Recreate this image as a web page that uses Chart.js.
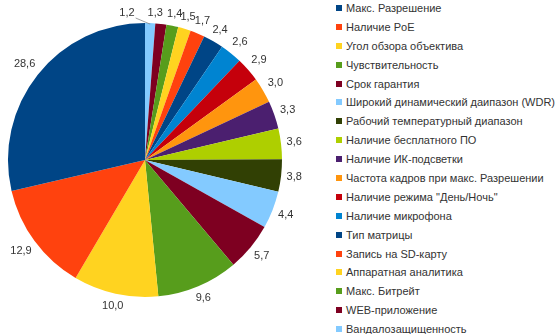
<!DOCTYPE html>
<html>
<head>
<meta charset="utf-8">
<script src="https://cdn.jsdelivr.net/npm/chart.js@4"></script>
<style>
  body { margin: 0; background: #fff; width: 560px; height: 334px; overflow: hidden; position: relative; }
  #pieBox { position: absolute; left: 0; top: 0; width: 330px; height: 334px; }
  #legend { position: absolute; left: 336px; top: 0; font: 11px "Liberation Sans", Arial, sans-serif; color: #333; }
  #legend div { height: 18.9px; line-height: 16px; white-space: nowrap; }
  #legend span { display: inline-block; width: 6px; height: 6px; margin-right: 4px; vertical-align: 1px; }
</style>
</head>
<body>
<div id="pieBox"><canvas id="pieChart"></canvas></div>
<div id="legend"></div>
<script>
const categories = [
    "Макс. Разрешение",
    "Наличие PoE",
    "Угол обзора объектива",
    "Чувствительность",
    "Срок гарантия",
    "Широкий динамический даипазон (WDR)",
    "Рабочий температурный диапазон",
    "Наличие бесплатного ПО",
    "Наличие ИК-подсветки",
    "Частота кадров при макс. Разрешении",
    "Наличие режима \"День/Ночь\"",
    "Наличие микрофона",
    "Тип матрицы",
    "Запись на SD-карту",
    "Аппаратная аналитика",
    "Макс. Битрейт",
    "WEB-приложение",
    "Вандалозащищенность"
];
const values = [28.6, 12.9, 10.0, 9.6, 5.7, 4.4, 3.8, 3.6, 3.3, 3.0, 2.9, 2.6, 2.4, 1.7, 1.5, 1.4, 1.3, 1.2];
const colors = [
    "#004586", "#ff420e", "#ffd320", "#579d1c", "#7e0021", "#83caff",
    "#314004", "#aecf00", "#4b1f6f", "#ff950e", "#c5000b", "#0084d1",
    "#004586", "#ff420e", "#ffd320", "#579d1c", "#7e0021", "#83caff"
];

// legend (same order as the source table)
const legendEl = document.getElementById("legend");
categories.forEach((name, i) => {
    const row = document.createElement("div");
    const sw = document.createElement("span");
    sw.style.background = colors[i];
    row.appendChild(sw);
    row.appendChild(document.createTextNode(name));
    legendEl.appendChild(row);
});

// pie goes counter-clockwise in the original, so feed it reversed
const pieLabels = categories.slice().reverse();
const pieValues = values.slice().reverse();
const pieColors = colors.slice().reverse();

function fmt(v) {
    return v.toFixed(1).replace(".", ",");
}

const outsideLabels = {
    id: "outsideLabels",
    afterDatasetsDraw(chart) {
        const ctx = chart.ctx;
        const meta = chart.getDatasetMeta(0);
        ctx.save();
        ctx.font = '11px "Liberation Sans", Arial, sans-serif';
        ctx.fillStyle = "#333";
        ctx.textAlign = "center";
        ctx.textBaseline = "middle";
        meta.data.forEach((arc, i) => {
            const v = pieValues[i];
            const txt = fmt(v);
            const mid = (arc.startAngle + arc.endAngle) / 2;
            const dx = Math.cos(mid), dy = Math.sin(mid);
            const w = ctx.measureText(txt).width, h = 11;
            if (i === 0) {
                // smallest slice: label pushed left with a leader line
                const ex = arc.x + dx * (arc.outerRadius - 1);
                const ey = arc.y + dy * (arc.outerRadius - 1);
                const lx = arc.x - 18, ly = arc.y - arc.outerRadius - 10;
                ctx.strokeStyle = "#888";
                ctx.lineWidth = 0.8;
                ctx.beginPath();
                ctx.moveTo(ex, ey);
                ctx.lineTo(lx + w / 2 + 1, ly + 5);
                ctx.stroke();
                ctx.fillText(txt, lx, ly);
                return;
            }
            const ext = Math.abs(dx) * w / 2 + Math.abs(dy) * h / 2;
            const d = arc.outerRadius + 5 + ext;
            let x = arc.x + dx * d, y = arc.y + dy * d;
            if (i === 1) x -= 7;
            ctx.fillText(txt, x, y);
        });
        ctx.restore();
    }
};

const ctx = document.getElementById("pieChart").getContext("2d");
new Chart(ctx, {
    type: "pie",
    data: {
        labels: pieLabels,
        datasets: [{
            data: pieValues,
            backgroundColor: pieColors,
            borderWidth: 0
        }]
    },
    options: {
        responsive: true,
        maintainAspectRatio: false,
        animation: false,
        layout: { padding: { left: 8, top: 23, right: 48, bottom: 37 } },
        plugins: {
            legend: { display: false },
            tooltip: { enabled: false }
        }
    },
    plugins: [outsideLabels]
});
</script>
</body>
</html>
